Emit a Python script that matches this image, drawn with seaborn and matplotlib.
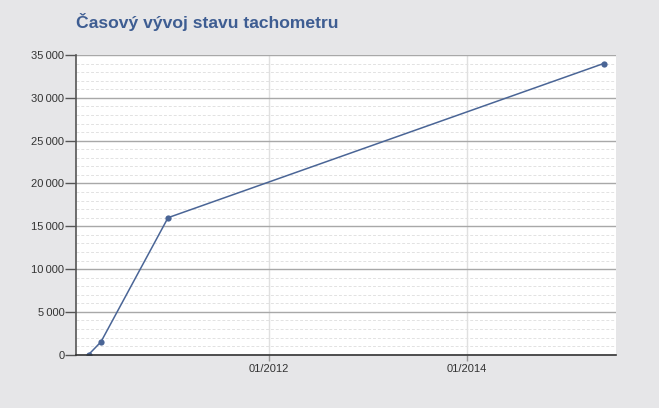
import pandas as pd
import matplotlib
matplotlib.use('Agg')
import matplotlib.pyplot as plt
import matplotlib.dates as mdates
import matplotlib.ticker as mticker
import seaborn as sns

# Data
dates = ['2010-03-05', '2010-04-20', '2010-12-24', '2015-05-22']
odometer = [0, 1500, 16000, 34000]
title = 'Časový vývoj stavu tachometru'

df = pd.DataFrame({'date': pd.to_datetime(dates), 'km': odometer})

sns.set_style('white')
plt.rcParams['font.family'] = ['Liberation Sans', 'DejaVu Sans']

bg = '#e6e6e8'
line_col = '#4a6596'

fig = plt.figure(figsize=(6.59, 4.08), dpi=100, facecolor=bg)
ax = fig.add_axes([0.1146, 0.1306, 0.8201, 0.7346])
ax.set_facecolor('white')

sns.lineplot(data=df, x='date', y='km', ax=ax, color=line_col, linewidth=1.1,
             marker='o', markersize=4.5, markeredgewidth=0, markerfacecolor=line_col)

ax.set_xlim(pd.Timestamp('2010-01-16'), pd.Timestamp('2015-07-07'))
ax.set_ylim(0, 35000)

# y axis: major every 5000, minor dashed every 1000
ax.yaxis.set_major_locator(mticker.MultipleLocator(5000))
ax.yaxis.set_minor_locator(mticker.MultipleLocator(1000))
ax.yaxis.set_major_formatter(mticker.FuncFormatter(lambda v, p: f'{int(v):,}'.replace(',', '\u2009')))
ax.grid(axis='y', which='major', color='#a8a8a8', linewidth=1.0, linestyle='-')
ax.grid(axis='y', which='minor', color='#e2e2e2', linewidth=0.7, linestyle=(0, (3, 2)))

# x axis: dates every two years
ax.xaxis.set_major_locator(mdates.YearLocator(2))
ax.xaxis.set_major_formatter(mdates.DateFormatter('%m/%Y'))
ax.grid(axis='x', which='major', color='#e0e0e0', linewidth=1.0)
ax.set_axisbelow(True)

ax.tick_params(axis='y', which='major', length=8, width=1, color='#555555',
               labelsize=8, labelcolor='#333333', pad=0, left=True)
ax.tick_params(axis='y', which='minor', length=0)
ax.tick_params(axis='x', which='major', length=4, width=1, color='#999999',
               labelsize=8, labelcolor='#333333', pad=3, bottom=True)

ax.set_xlabel('')
ax.set_ylabel('')

for side in ['top', 'right']:
    ax.spines[side].set_visible(False)
ax.spines['left'].set_color('#555555')
ax.spines['left'].set_linewidth(1.2)
ax.spines['bottom'].set_color('#333333')
ax.spines['bottom'].set_linewidth(1.2)

fig.text(0.1146, 0.945, title, fontsize=12.6, fontweight='bold', color='#3e5d92',
         ha='left', va='center')

fig.savefig('out.png', dpi=100, facecolor=bg)
